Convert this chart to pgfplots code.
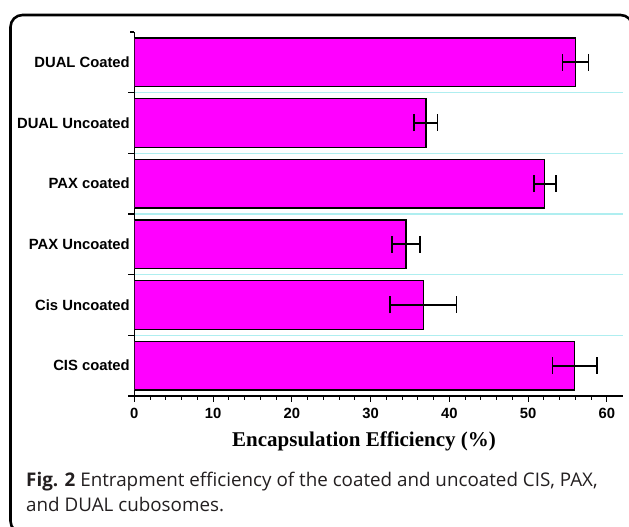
\documentclass[border=0pt]{standalone}
\usepackage{pgfplots}
\pgfplotsset{compat=1.18}
\usepackage{fontspec}
\setmainfont{Liberation Sans}
\newfontfamily\capfont{Open Sans}
\newfontfamily\labfont{Liberation Serif}
\definecolor{barmag}{RGB}{255,0,255}
\definecolor{gridcyan}{RGB}{175,238,240}
\definecolor{captxt}{RGB}{35,31,32}
\begin{document}
\begin{tikzpicture}[x=1pt,y=1pt]
\useasboundingbox (0,0) rectangle (629,527);
\fill[white] (0,0) rectangle (629,527);
\draw[line width=2.6pt, rounded corners=12pt] (10.5,512) rectangle (632.5,-6);
\begin{axis}[
  at={(134.3pt,131pt)}, anchor=south west, scale only axis,
  width=488.4pt, height=364pt,
  xmin=0, xmax=62, ymin=-0.5, ymax=5.5,
  axis lines*=left,
  axis line style={line width=1.2pt, black},
  /pgf/number format/assume math mode=true,
  xtick={0,10,...,60}, minor x tick num=4,
  tick align=outside, major tick length=6pt, minor tick length=4pt,
  tick style={line width=1.1pt, black},
  ytick={-0.5,0.5,...,4.5}, yticklabels={},
  minor ytick={5.5},
  ymajorgrids=true,
  major grid style={gridcyan, line width=1.2pt},
  extra y ticks={0,1,2,3,4,5},
  extra y tick labels={CIS coated, Cis Uncoated, PAX Uncoated, PAX coated, DUAL Uncoated, DUAL Coated},
  extra y tick style={grid=none, tick style={draw=none}},
  ticklabel style={font=\fontsize{14.8}{16}\selectfont\bfseries, text=black},
  yticklabel style={xshift=5pt},
  xticklabel style={yshift=-2.5pt},
  xlabel={\labfont\bfseries\fontsize{21}{23}\selectfont Encapsulation Efficiency (\%)},
  xlabel style={at={(axis description cs:0.4703,-0.1374)}, anchor=base, inner sep=0pt},
]
\addplot[xbar, bar width=0.8, fill=barmag, draw=black, line width=1.5pt,
  error bars/.cd, x dir=both, x explicit,
  error bar style={line width=1.7pt, black},
  error mark options={rotate=90, mark size=8.5pt, line width=1.7pt, black}]
coordinates {
  (55.9,0) +- (2.8,0)
  (36.7,1) +- (4.2,0)
  (34.5,2) +- (1.8,0)
  (52.1,3) +- (1.4,0)
  (37.0,4) +- (1.5,0)
  (56.0,5) +- (1.65,0)
};
\end{axis}
\node[anchor=base west, inner sep=0pt, text=captxt, font=\capfont\fontsize{18.8}{20}\selectfont] at (26,40.7)
  {\textbf{Fig. 2} Entrapment efficiency of the coated and uncoated CIS, PAX,};
\node[anchor=base west, inner sep=0pt, text=captxt, font=\capfont\fontsize{18.8}{20}\selectfont] at (26,15)
  {and DUAL cubosomes.};
\end{tikzpicture}
\end{document}
